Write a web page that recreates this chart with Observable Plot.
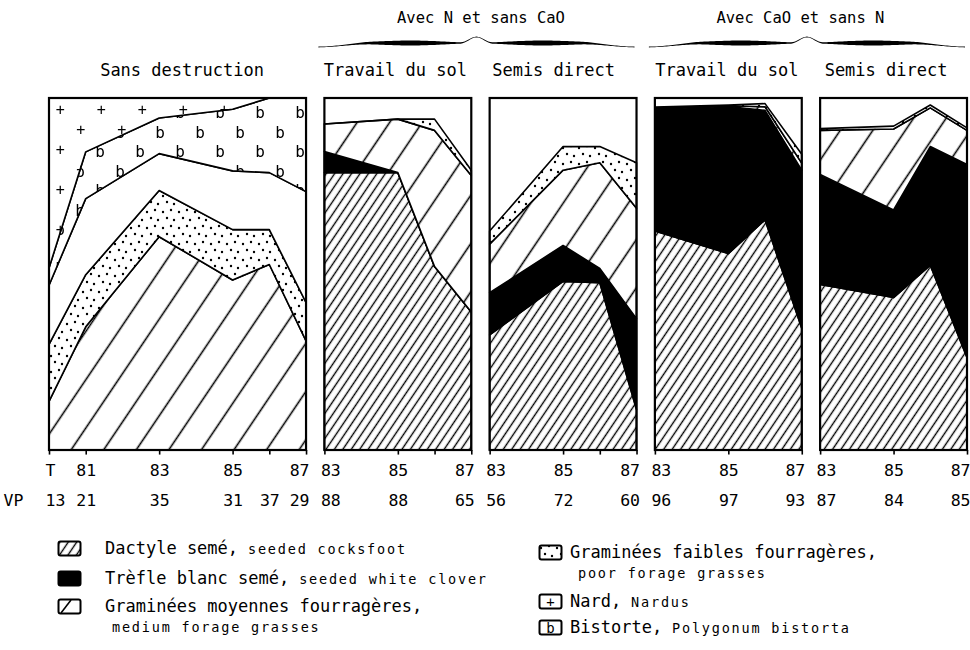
<!DOCTYPE html>
<html>
<head>
<meta charset="utf-8">
<script src="https://cdn.jsdelivr.net/npm/d3@7"></script>
<script src="https://cdn.jsdelivr.net/npm/@observablehq/plot@0.6"></script>
<style>
html,body{margin:0;padding:0;background:#fff;}
body{width:970px;height:650px;position:relative;overflow:hidden;font-family:"DejaVu Sans Mono",monospace;color:#000;}
#chart{position:absolute;left:0;top:0;}
.item{position:absolute;white-space:nowrap;font-size:17px;line-height:20px;height:20px;}
.small{font-size:13.5px;letter-spacing:1.8px;}
.sw{position:absolute;}
</style>
</head>
<body>
<div id="chart"></div>
<div id="legend"></div>
<script>
// ---------------- DATA ----------------
const panelTitles = ["Sans destruction", "Travail du sol", "Semis direct", "Travail du sol", "Semis direct"];
const groupTitles = ["Avec N et sans CaO", "Avec CaO et sans N"];
const groupPanels = [[1, 2], [3, 4]];
const panelFirstYear = [80, 83, 83, 83, 83];
const panelLastYear = [87, 87, 87, 87, 87];
const panelYears = [[80, 81, 83, 85, 86, 87], [83, 85, 86, 87], [83, 85, 86, 87], [83, 85, 86, 87], [83, 85, 86, 87]];
const tickYears = [[80, 81, 83, 85, 86, 87], [83, 85, 86, 87], [83, 85, 86, 87], [83, 85, 87], [83, 85, 87]];
const yearLabels = [["T", "81", "83", "85", "", "87"], ["83", "85", "", "87"], ["83", "85", "", "87"], ["83", "85", "", "87"], ["83", "85", "", "87"]];
const vpValues = [["13", "21", "35", "31", "37", "29"], ["88", "88", "", "65"], ["56", "72", "", "60"], ["96", "97", "", "93"], ["87", "84", "", "85"]];

// cumulative upper boundary (% cover) of each layer, bottom to top, per panel
const dactyleTop  = [null, [78.8, 78.8, 52.1, 39.2], [32.7, 47.9, 47.5, 11.5], [62.2, 55.8, 65.4, 34.6], [47.0, 43.3, 52.5, 26.3]];
const trefleTop   = [null, [84.8, 78.8, 52.1, 39.2], [44.7, 58.1, 51.6, 37.3], [96.8, 97.6, 96.5, 79.5], [78.3, 68.2, 86.2, 81.1]];
const moyennesTop = [[13.8, 35.0, 60.6, 48.3, 52.7, 31.0], [92.6, 94.0, 90.8, 78.0], [58.5, 79.5, 81.6, 68.7], [97.2, 97.8, 97.5, 81.5], [90.8, 91.2, 97.2, 90.8]];
const faiblesTop  = [[30.0, 49.8, 73.7, 62.6, 62.6, 41.9], [92.6, 94.0, 94.0, 79.5], [62.2, 86.2, 86.2, 81.6], [97.4, 98.0, 98.4, 84.0], [91.3, 92.0, 98.0, 91.5]];
const autresTop   = [[46.8, 71.4, 84.2, 79.3, 78.8, 73.4], null, null, null, null];
const bistorteTop = [[51.7, 84.7, 94.3, 96.8, 100, 100], null, null, null, null];
const nardusTop   = [[100, 100, 100, 100, 100, 100], null, null, null, null];

const legendFr = ["Dactyle semé,", "Trèfle blanc semé,", "Graminées moyennes fourragères,", "Graminées faibles fourragères,", "Nard,", "Bistorte,"];
const legendEn = ["seeded cocksfoot", "seeded white clover", "medium forage grasses", "poor forage grasses", "Nardus", "Polygonum bistorta"];

// ---------------- LAYOUT / STYLE ----------------
const panelOffset = [0, 7.5, 12, 16.5, 21]; // virtual x units
const X = (p, yr) => panelOffset[p] + (yr - panelFirstYear[p]);
const layerOrder = ["dactyle", "trefle", "moyennes", "faibles", "autres", "bistorte", "nardus"];
const layerTops = {dactyle: dactyleTop, trefle: trefleTop, moyennes: moyennesTop, faibles: faiblesTop, autres: autresTop, bistorte: bistorteTop, nardus: nardusTop};
const layerFill = {dactyle: "url(#pat-dense)", trefle: "black", moyennes: "url(#pat-sparse)", faibles: "url(#pat-dots)", autres: "white", bistorte: "url(#pat-b)", nardus: "url(#pat-plus)"};
const titleShift = [4, -3, -10, -2, -8];
const groupShift = [0, -11];

// build rows
const rows = [];
panelYears.forEach((yrs, p) => {
  let prev = yrs.map(() => 0);
  for (const L of layerOrder) {
    const tops = layerTops[L][p];
    if (!tops) continue;
    yrs.forEach((yr, i) => rows.push({p, layer: L, u: X(p, yr), y1: prev[i], y2: tops[i]}));
    prev = tops;
  }
});
const frames = panelTitles.map((t, p) => ({p, x1: X(p, panelFirstYear[p]), x2: X(p, panelLastYear[p])}));
const ticks = tickYears.flatMap((yrs, p) => yrs.map(yr => ({u: X(p, yr)})));
const labels = panelYears.flatMap((yrs, p) => yrs.map((yr, i) => ({
  u: X(p, yr), t: yearLabels[p][i], v: vpValues[p][i],
  pos: i === 0 ? "start" : (i === yrs.length - 1 ? "end" : "middle")
})));

const marks = [];
for (const L of layerOrder) {
  const d = rows.filter(r => r.layer === L);
  if (!d.length) continue;
  marks.push(Plot.areaY(d, {x: "u", y1: "y1", y2: "y2", z: "p", fill: layerFill[L], stroke: "black", strokeWidth: 1.6, strokeLinejoin: "round", curve: "linear"}));
}
marks.push(Plot.rect(frames, {x1: "x1", x2: "x2", y1: () => 0, y2: () => 100, fill: "none", stroke: "black", strokeWidth: 2.2}));
marks.push(Plot.ruleX(ticks, {x: "u", y1: () => 0, y2: () => -1.3, stroke: "black", strokeWidth: 1.6}));
const anchorDx = {start: -4, middle: 0, end: 3};
for (const a of ["start", "middle", "end"]) {
  const d = labels.filter(l => l.pos === a);
  marks.push(Plot.text(d, {x: "u", y: () => 0, text: "t", dy: 20, dx: anchorDx[a], textAnchor: a, lineAnchor: "middle", fontSize: 16.5}));
  marks.push(Plot.text(d, {x: "u", y: () => 0, text: "v", dy: 50, dx: anchorDx[a], textAnchor: a, lineAnchor: "middle", fontSize: 16.5}));
}
marks.push(Plot.text(["VP"], {frameAnchor: "bottom-left", dx: -46, dy: 50, textAnchor: "start", lineAnchor: "middle", fontSize: 16.5}));
panelTitles.forEach((t, p) => {
  const c = (frames[p].x1 + frames[p].x2) / 2;
  marks.push(Plot.text([t], {x: () => c, frameAnchor: "top", dy: -28, dx: titleShift[p], lineAnchor: "middle", fontSize: 17}));
});
groupTitles.forEach((t, g) => {
  const [a, b] = groupPanels[g];
  const c = (frames[a].x1 + frames[b].x2) / 2;
  marks.push(Plot.text([t], {x: () => c, frameAnchor: "top", dy: -80, dx: groupShift[g], lineAnchor: "middle", fontSize: 15.5}));
});

const chart = Plot.plot({
  width: 970, height: 520,
  marginLeft: 49, marginRight: 3, marginTop: 98, marginBottom: 70,
  x: {domain: [0, 25], axis: null},
  y: {domain: [0, 100], axis: null},
  style: {fontFamily: "DejaVu Sans Mono, monospace", fontSize: "16px", background: "white", color: "black"},
  marks
});
document.getElementById("chart").appendChild(chart);

// patterns
const defs = d3.select(chart).insert("defs", ":first-child");
function hatch(id, w, sw) {
  const pt = defs.append("pattern").attr("id", id).attr("patternUnits", "userSpaceOnUse")
    .attr("width", w).attr("height", 40).attr("patternTransform", "rotate(34)");
  pt.append("rect").attr("width", w).attr("height", 40).attr("fill", "white");
  pt.append("line").attr("x1", w / 2).attr("x2", w / 2).attr("y1", -1).attr("y2", 41).attr("stroke", "black").attr("stroke-width", sw);
}
hatch("pat-dense", 7, 1.4);
hatch("pat-sparse", 27, 1.6);
{
  const pt = defs.append("pattern").attr("id", "pat-dots").attr("patternUnits", "userSpaceOnUse").attr("width", 16).attr("height", 16);
  pt.append("rect").attr("width", 16).attr("height", 16).attr("fill", "white");
  for (const [cx, cy] of [[3, 4], [11, 2], [7, 10], [14, 12]])
    pt.append("circle").attr("cx", cx).attr("cy", cy).attr("r", 1.2).attr("fill", "black");
}
function glyphPat(id, ch, w, h, tx, ty, fs) {
  const pt = defs.append("pattern").attr("id", id).attr("patternUnits", "userSpaceOnUse")
    .attr("width", w).attr("height", h).attr("patternTransform", `translate(${tx},${ty})`);
  pt.append("rect").attr("width", w).attr("height", h).attr("fill", "white");
  for (const [gx, gy] of [[w / 4, h / 4], [3 * w / 4, 3 * h / 4]])
    pt.append("text").attr("x", gx).attr("y", gy).attr("text-anchor", "middle").attr("dominant-baseline", "central")
      .attr("font-family", "DejaVu Sans Mono, monospace").attr("font-size", fs).attr("fill", "black").text(ch);
}
glyphPat("pat-plus", "+", 41, 40, 50, 100, 15);
glyphPat("pat-b", "b", 40, 39, 90, 142, 16);

// braces
const xs = chart.scale("x");
function bracePath(x0, x1, yb) {
  const sm = v => { v = Math.max(0, Math.min(1, v)); return v * v * (3 - 2 * v); };
  const N = 160, top = [], bot = [];
  for (let k = 0; k <= N; k++) {
    const s = k / N, t = s < 0.5 ? s * 2 : (1 - s) * 2;
    const x = x0 + s * (x1 - x0);
    const yc = yb + 4 * (1 - sm(t / 0.35)) - 6 * sm((t - 0.9) / 0.1);
    const w = 0.7 + 4.2 * Math.pow(Math.sin(Math.PI * Math.pow(t, 1.3)), 2);
    top.push([x, yc - w / 2]); bot.push([x, yc + w / 2]);
  }
  const pts = top.concat(bot.reverse());
  return "M" + pts.map(p => p[0].toFixed(1) + "," + p[1].toFixed(1)).join("L") + "Z";
}
groupPanels.forEach(([a, b]) => {
  d3.select(chart).append("path").attr("d", bracePath(xs.apply(frames[a].x1) - 6, xs.apply(frames[b].x2) - 2, 43)).attr("fill", "black");
});

// legend
const legendSwatch = ["dense", "black", "sparse1", "dots", "plus", "b"];
const legendPos = [
  {sx: 57, tx: 105, y: 548}, {sx: 57, tx: 105, y: 578}, {sx: 57, tx: 105, y: 606, y2: 627, tx2: 112},
  {sx: 538, tx: 570, y: 552, y2: 573, tx2: 578}, {sx: 538, tx: 570, y: 601}, {sx: 538, tx: 570, y: 627}
];
const leg = d3.select("#legend");
legendFr.forEach((fr, i) => {
  const L = legendPos[i];
  const s = leg.append("svg").attr("class", "sw").attr("width", 26).attr("height", 18)
    .style("left", L.sx + "px").style("top", (L.y - 8) + "px");
  const kind = legendSwatch[i];
  const fill = kind === "dense" ? "url(#pat-dense)" : kind === "black" ? "black" : kind === "dots" ? "url(#pat-dots)" : "white";
  s.append("rect").attr("x", 1.5).attr("y", 1.5).attr("width", 22).attr("height", 14).attr("rx", 2)
    .attr("fill", fill).attr("stroke", "black").attr("stroke-width", 2);
  if (kind === "sparse1") s.append("line").attr("x1", 4).attr("y1", 15).attr("x2", 14).attr("y2", 2).attr("stroke", "black").attr("stroke-width", 1.6);
  if (kind === "plus" || kind === "b") s.append("text").attr("x", 12.5).attr("y", 9).attr("text-anchor", "middle").attr("dominant-baseline", "central")
    .attr("font-family", "DejaVu Sans Mono, monospace").attr("font-size", 14).text(kind === "plus" ? "+" : "b");
  const d = leg.append("div").attr("class", "item").style("left", L.tx + "px").style("top", (L.y - 10) + "px");
  d.append("span").text(fr);
  if (L.y2) {
    leg.append("div").attr("class", "item small").style("left", L.tx2 + "px").style("top", (L.y2 - 10) + "px").text(legendEn[i]);
  } else {
    d.append("span").attr("class", "small").text(" " + legendEn[i]);
  }
});
</script>
</body>
</html>
